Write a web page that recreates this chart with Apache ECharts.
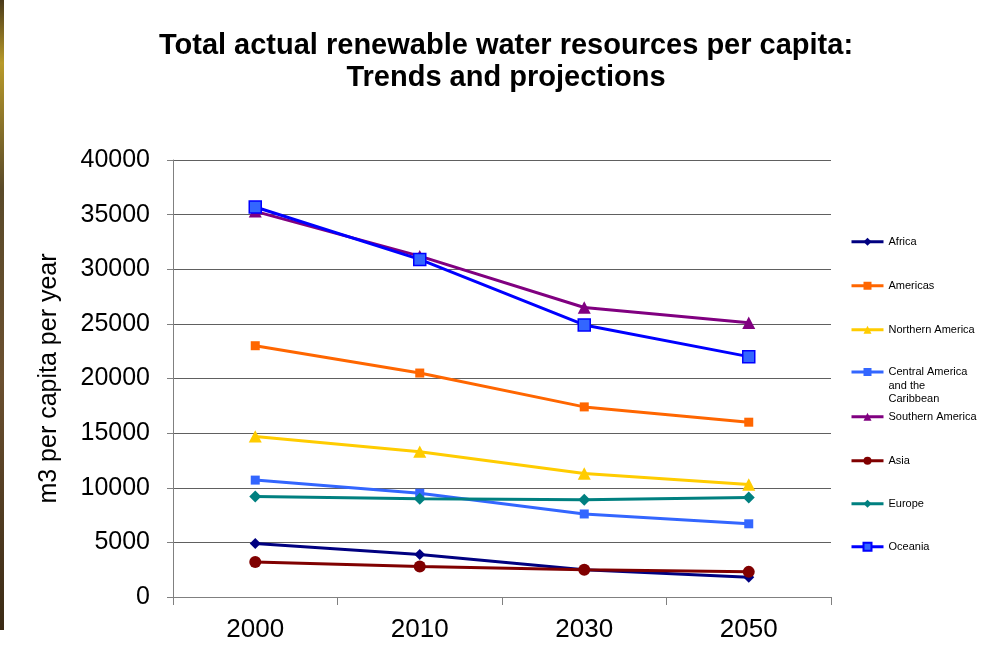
<!DOCTYPE html>
<html>
<head>
<meta charset="utf-8">
<script src="https://cdn.jsdelivr.net/npm/echarts@6/dist/echarts.min.js"></script>
<style>html,body{margin:0;padding:0;background:#fff;}#c{width:989px;height:671px;}</style>
</head>
<body>
<div id="c"></div>
<script>
const categories = ['2000', '2010', '2030', '2050'];
const yTicks = [0, 5000, 10000, 15000, 20000, 25000, 30000, 35000, 40000];
const africa = [4900, 3900, 2500, 1800];
const americas = [23000, 20500, 17400, 16000];
const northernAmerica = [14700, 13300, 11300, 10300];
const centralAmerica = [10700, 9500, 7600, 6700];
const southernAmerica = [35300, 31200, 26500, 25100];
const asia = [3200, 2800, 2500, 2300];
const europe = [9200, 9000, 8900, 9100];
const oceania = [35700, 30900, 24900, 22000];

const seriesDefs = [
  {name: 'Africa', data: africa, color: '#000080', symbol: 'diamond', size: 11, fill: '#000080', border: '#000080'},
  {name: 'Americas', data: americas, color: '#FF6600', symbol: 'rect', size: 9, fill: '#FF6600', border: '#FF6600'},
  {name: 'Northern America', data: northernAmerica, color: '#FFCC00', symbol: 'triangle', size: 13, fill: '#FFCC00', border: '#FFCC00'},
  {name: 'Central America\nand the\nCaribbean', data: centralAmerica, color: '#3366FF', symbol: 'rect', size: 9, fill: '#3366FF', border: '#3366FF'},
  {name: 'Southern America', data: southernAmerica, color: '#800080', symbol: 'triangle', size: 13, fill: '#800080', border: '#800080'},
  {name: 'Asia', data: asia, color: '#800000', symbol: 'circle', size: 12, fill: '#800000', border: '#800000'},
  {name: 'Europe', data: europe, color: '#008080', symbol: 'diamond', size: 12, fill: '#008080', border: '#008080'},
  {name: 'Oceania', data: oceania, color: '#0000FF', symbol: 'rect', size: 12, fill: '#3366FF', border: '#0000FF'}
];
const legendCenters = [240, 284, 328, 372, 415, 459, 502, 545];

const chart = echarts.init(document.getElementById('c'), null, {renderer: 'canvas'});
const font = 'Liberation Sans, Arial, sans-serif';

const legends = seriesDefs.map((s, i) => {
  const multi = s.name.indexOf('\n') >= 0;
  const lh = 13.5;
  let top = legendCenters[i] - 5;
  if (multi) {
    top = legendCenters[i] - (5 * lh) / 2;
  }
  return {
    data: [s.name],
    orient: 'vertical',
    left: 850,
    top: top,
    padding: 0,
    itemWidth: 32,
    itemHeight: 10,
    itemGap: 0,
    selectedMode: false,
    formatter: name => (multi ? '\n\n' + name : name),
    lineStyle: {width: 3},
    textStyle: {fontSize: 11, fontFamily: font, color: '#000', lineHeight: lh}
  };
});

const series = seriesDefs.map(s => ({
  name: s.name,
  type: 'line',
  data: s.data,
  symbol: s.symbol,
  symbolSize: s.symbol === 'triangle' ? [s.size, s.size * 0.95] : s.size,
  showAllSymbol: true,
  lineStyle: {color: s.color, width: 3},
  itemStyle: {color: s.fill, borderColor: s.border, borderWidth: s.fill !== s.border ? 1.5 : 0},
  emphasis: {disabled: true},
  animation: false
}));

chart.setOption({
  backgroundColor: '#fff',
  animation: false,
  title: {
    text: 'Total actual renewable water resources per capita:\nTrends and projections',
    left: 501,
    textAlign: 'center',
    top: 25,
    textStyle: {fontSize: 29, fontWeight: 'bold', fontFamily: font, color: '#000', lineHeight: 32}
  },
  legend: legends,
  grid: {left: 173, right: 158, top: 160, bottom: 74, containLabel: false},
  xAxis: {
    type: 'category',
    data: categories,
    boundaryGap: true,
    axisLine: {lineStyle: {color: '#808080', width: 1}},
    axisTick: {show: true, length: 8, inside: false, lineStyle: {color: '#808080'}},
    axisLabel: {fontSize: 26, fontFamily: font, color: '#000', margin: 20},
    splitLine: {show: false}
  },
  yAxis: {
    type: 'value',
    min: 0,
    max: 40000,
    interval: 5000,
    name: 'm3 per capita per year',
    nameLocation: 'middle',
    nameGap: 111,
    nameTextStyle: {fontSize: 25, fontFamily: font, color: '#000'},
    axisLine: {show: true, lineStyle: {color: '#808080', width: 1}},
    axisTick: {show: true, length: 6, lineStyle: {color: '#808080'}},
    axisLabel: {fontSize: 25, fontFamily: font, color: '#000', margin: 23,
      formatter: v => yTicks.indexOf(v) >= 0 ? String(v) : ''},
    splitLine: {show: true, lineStyle: {color: '#606060', width: 1}}
  },
  graphic: [{
    type: 'rect',
    left: 0, top: 0,
    shape: {width: 4, height: 630},
    style: {fill: new echarts.graphic.LinearGradient(0, 0, 0, 1, [
      {offset: 0, color: '#4a3a1a'}, {offset: 0.1, color: '#b89a2a'}, {offset: 0.3, color: '#5a4a2a'},
      {offset: 0.6, color: '#6b5030'}, {offset: 1, color: '#3a2a15'}
    ])},
    silent: true
  }],
  series: series
});
</script>
</body>
</html>
